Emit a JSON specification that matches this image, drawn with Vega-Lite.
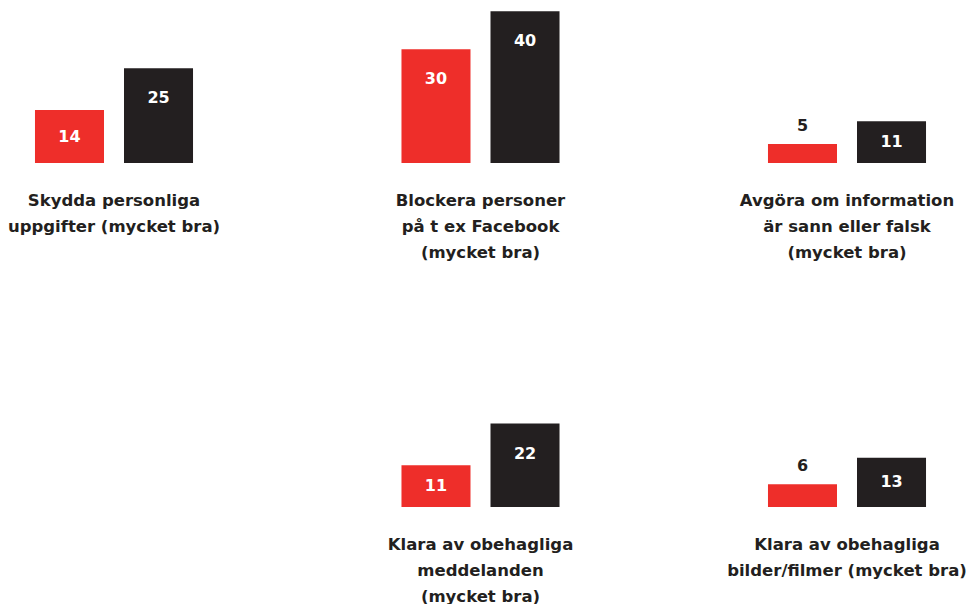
{
  "$schema": "https://vega.github.io/schema/vega-lite/v6.json",
  "background": "white",
  "padding": {"left": 4, "top": 3, "right": 0, "bottom": 0},
  "bounds": "flush",
  "config": {"view": {"stroke": null}, "font": "DejaVu Sans"},
  "data": {"values": [
    {"panel": "Skydda personliga|uppgifter (mycket bra)", "group": "a", "value": 14},
    {"panel": "Skydda personliga|uppgifter (mycket bra)", "group": "b", "value": 25},
    {"panel": "Blockera personer|på t ex Facebook|(mycket bra)", "group": "a", "value": 30},
    {"panel": "Blockera personer|på t ex Facebook|(mycket bra)", "group": "b", "value": 40},
    {"panel": "Avgöra om information|är sann eller falsk|(mycket bra)", "group": "a", "value": 5},
    {"panel": "Avgöra om information|är sann eller falsk|(mycket bra)", "group": "b", "value": 11},
    {"panel": " ", "group": "a", "value": 0},
    {"panel": "Klara av obehagliga|meddelanden|(mycket bra)", "group": "a", "value": 11},
    {"panel": "Klara av obehagliga|meddelanden|(mycket bra)", "group": "b", "value": 22},
    {"panel": "Klara av obehagliga|bilder/filmer (mycket bra)", "group": "a", "value": 6},
    {"panel": "Klara av obehagliga|bilder/filmer (mycket bra)", "group": "b", "value": 13}
  ]},
  "facet": {
    "field": "panel",
    "type": "nominal",
    "sort": [
      "Skydda personliga|uppgifter (mycket bra)",
      "Blockera personer|på t ex Facebook|(mycket bra)",
      "Avgöra om information|är sann eller falsk|(mycket bra)",
      " ",
      "Klara av obehagliga|meddelanden|(mycket bra)",
      "Klara av obehagliga|bilder/filmer (mycket bra)"
    ],
    "header": {
      "title": null,
      "labelOrient": "bottom",
      "labelExpr": "split(datum.value, '|')",
      "labelFont": "DejaVu Sans",
      "labelFontWeight": "bold",
      "labelFontSize": 16.5,
      "labelColor": "#231F20",
      "labelLineHeight": 26,
      "labelPadding": 30
    }
  },
  "columns": 3,
  "spacing": {"column": 146.5, "row": 184},
  "spec": {
    "width": 220,
    "height": 160,
    "encoding": {
      "x": {"field": "group", "type": "nominal", "axis": null, "scale": {"paddingInner": 0.2247, "paddingOuter": 0.348}},
      "y": {"field": "value", "type": "quantitative", "axis": null, "scale": {"domain": [0, 42.2]}}
    },
    "layer": [
      {
        "mark": {"type": "bar"},
        "encoding": {
          "color": {"field": "group", "type": "nominal", "legend": null, "scale": {"domain": ["a", "b"], "range": ["#EE2E2A", "#231F20"]}}
        }
      },
      {
        "transform": [{"filter": "datum.value >= 8"}],
        "mark": {"type": "text", "baseline": "middle", "dy": {"expr": "min(30, datum.value * 1.9)"}, "color": "white", "font": "DejaVu Sans", "fontWeight": "bold", "fontSize": 16},
        "encoding": {"text": {"field": "value", "type": "quantitative"}}
      },
      {
        "transform": [{"filter": "datum.value > 0 && datum.value < 8"}],
        "mark": {"type": "text", "baseline": "middle", "dy": -18, "color": "#231F20", "font": "DejaVu Sans", "fontWeight": "bold", "fontSize": 16},
        "encoding": {"text": {"field": "value", "type": "quantitative"}}
      }
    ]
  }
}
